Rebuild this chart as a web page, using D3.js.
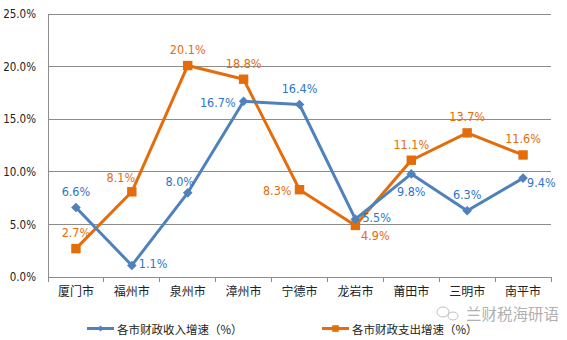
<!DOCTYPE html>
<html>
<head>
<meta charset="utf-8">
<script src="https://cdn.jsdelivr.net/npm/d3@7"></script>
<style>
  html, body { margin: 0; padding: 0; background: #fff; }
  svg { display: block; }
  .num { font-family: "Liberation Sans Narrow", "DejaVu Sans Condensed", "Liberation Sans", sans-serif; }
  .cjk { font-family: "Noto Sans CJK SC", "Noto Sans", sans-serif; }
</style>
</head>
<body>
<svg id="chart" width="567" height="340"></svg>
<script>
// Fiscal growth by city (%)
const cities = ["厦门市", "福州市", "泉州市", "漳州市", "宁德市", "龙岩市", "莆田市", "三明市", "南平市"];
const incomeGrowth = [6.6, 1.1, 8.0, 16.7, 16.4, 5.5, 9.8, 6.3, 9.4];
const spendGrowth = [2.7, 8.1, 20.1, 18.8, 8.3, 4.9, 11.1, 13.7, 11.6];
const yTicks = [0, 5, 10, 15, 20, 25];
const seriesNames = ["各市财政收入增速（%）", "各市财政支出增速（%）"];
// where each value label sits relative to its point
const incomeLabelPos = ["above", "right", "aboveLeft", "left", "above", "right", "below", "above", "rightLow"];
const spendLabelPos = ["above", "aboveLeft2", "above", "above", "left", "belowRight", "above", "above", "above"];

const W = 567, H = 340;
const plot = { left: 48, right: 551, top: 14, bottom: 277 };
const blue = "#4F81BD", orange = "#E46C0A";
const blueText = "#2E75C6", orangeText = "#E46C0A";
const gridColor = "#8c8c8c";

const svg = d3.select("#chart");

const x = d3.scaleBand().domain(cities).range([plot.left, plot.right]).padding(0);
const y = d3.scaleLinear().domain([0, 25]).range([plot.bottom, plot.top]);

// horizontal gridlines
svg.append("g").selectAll("line").data(yTicks.filter(d => d > 0)).join("line")
  .attr("x1", plot.left).attr("x2", plot.right)
  .attr("y1", d => y(d)).attr("y2", d => y(d))
  .attr("stroke", gridColor).attr("stroke-width", 1)
  .attr("shape-rendering", "crispEdges");

// y axis
const yAxis = svg.append("g")
  .attr("transform", `translate(${plot.left},0)`)
  .call(d3.axisLeft(y).tickValues(yTicks).tickSize(0).tickPadding(12)
    .tickFormat(d => d3.format(".1%")(d / 100)));
yAxis.select(".domain").attr("stroke", gridColor).attr("shape-rendering", "crispEdges");
yAxis.selectAll("text").attr("class", "num").attr("font-size", 11.5).attr("fill", "#222");

// x axis: labels centred on bands, ticks on band boundaries
const xAxis = svg.append("g")
  .attr("transform", `translate(0,${plot.bottom})`)
  .call(d3.axisBottom(x).tickSize(0).tickPadding(10));
xAxis.select(".domain").attr("stroke", gridColor).attr("shape-rendering", "crispEdges");
xAxis.selectAll("text").attr("class", "cjk").attr("font-size", 12).attr("fill", "#222");
xAxis.selectAll(".boundary").data(d3.range(cities.length + 1)).join("line")
  .attr("class", "boundary")
  .attr("x1", i => plot.left + i * x.step()).attr("x2", i => plot.left + i * x.step())
  .attr("y1", 0).attr("y2", 5)
  .attr("stroke", gridColor).attr("shape-rendering", "crispEdges");

const cx = i => x(cities[i]) + x.bandwidth() / 2;
const line = d3.line().x((d, i) => cx(i)).y(d => y(d));

function diamond(r) { return `M0,${-r}L${r},0L0,${r}L${-r},0Z`; }
function square(r) { return `M${-r},${-r}H${r}V${r}H${-r}Z`; }

function drawSeries(values, color, markerPath) {
  const g = svg.append("g");
  g.append("path").datum(values).attr("d", line)
    .attr("fill", "none").attr("stroke", color).attr("stroke-width", 3)
    .attr("stroke-linejoin", "round");
  g.selectAll(".mk").data(values).join("path").attr("class", "mk")
    .attr("transform", (d, i) => `translate(${cx(i)},${y(d)})`)
    .attr("d", markerPath).attr("fill", color);
}

drawSeries(spendGrowth, orange, square(4.7));
drawSeries(incomeGrowth, blue, diamond(4.8));

const placements = {
  above: { dx: 0, dy: -16, anchor: "middle" },
  below: { dx: 0, dy: 18, anchor: "middle" },
  left: { dx: -8, dy: 1, anchor: "end" },
  right: { dx: 7, dy: -2, anchor: "start" },
  rightLow: { dx: 4, dy: 4, anchor: "start" },
  aboveLeft: { dx: -8, dy: -11, anchor: "middle" },
  aboveLeft2: { dx: -11, dy: -14, anchor: "middle" },
  belowRight: { dx: 20, dy: 10, anchor: "middle" }
};

function drawLabels(values, pos, color) {
  svg.append("g").selectAll("text").data(values).join("text")
    .attr("class", "num")
    .attr("x", (d, i) => cx(i) + placements[pos[i]].dx)
    .attr("y", (d, i) => y(d) + placements[pos[i]].dy)
    .attr("text-anchor", (d, i) => placements[pos[i]].anchor)
    .attr("dominant-baseline", "central")
    .attr("font-size", 12.5).attr("fill", color)
    .text(d => d3.format(".1f")(d) + "%");
}
drawLabels(incomeGrowth, incomeLabelPos, blueText);
drawLabels(spendGrowth, spendLabelPos, orangeText);

// legend
const legend = svg.append("g");
const legendItems = [
  { name: seriesNames[0], color: blue, x: 87, marker: diamond(3) },
  { name: seriesNames[1], color: orange, x: 322, marker: square(3.3) }
];
legendItems.forEach(it => {
  const g = legend.append("g").attr("transform", `translate(${it.x},328.5)`);
  g.append("line").attr("x1", 0).attr("x2", 27).attr("stroke", it.color).attr("stroke-width", 3);
  g.append("path").attr("transform", "translate(13.5,0)").attr("d", it.marker).attr("fill", it.color);
  g.append("text").attr("class", "cjk").attr("x", 30).attr("dominant-baseline", "central")
    .attr("font-size", 11.5).attr("fill", "#222").text(it.name);
});

// account mark in the lower right corner
const mark = svg.append("g").attr("transform", "translate(0,313)");
mark.append("ellipse").attr("cx", 443).attr("cy", -1).attr("rx", 6).attr("ry", 5)
  .attr("fill", "none").attr("stroke", "#c0c0c0").attr("stroke-width", 1);
mark.append("ellipse").attr("cx", 453).attr("cy", 3).attr("rx", 5).attr("ry", 4)
  .attr("fill", "none").attr("stroke", "#c0c0c0").attr("stroke-width", 1);
mark.append("text").attr("class", "cjk").attr("x", 466).attr("dominant-baseline", "central")
  .attr("font-size", 15.5).attr("fill", "#b0b0b0").text("兰财税海研语");
</script>
</body>
</html>
